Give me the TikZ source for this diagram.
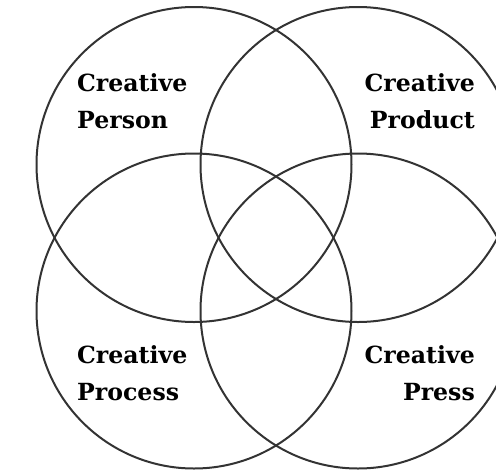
\documentclass[tikz,border=0pt]{standalone}
\usepackage{fontspec}
\setmainfont{DejaVu Serif}
\begin{document}
\begin{tikzpicture}[x=1pt,y=-1pt,
  ring/.style={draw=black!80, line width=2pt, circle, minimum size=315pt, inner sep=0pt},
  lbl/.style={font=\bfseries\fontsize{23.6}{37}\selectfont, inner sep=0pt, text=black}]
\useasboundingbox (0,0) rectangle (496,475);
\clip (0,0) rectangle (496,475);
\node[ring] (person)  at (194,164.5) {};
\node[ring] (product) at (358,164.5) {};
\node[ring] (process) at (194,311) {};
\node[ring] (press)   at (358,311) {};
\node[lbl, anchor=base west, align=left]  (tperson)  at (77,128)  {Creative\\Person};
\node[lbl, anchor=base east, align=right] (tproduct) at (475,128) {Creative\\Product};
\node[lbl, anchor=base west, align=left]  (tprocess) at (77,400.5)   {Creative\\Process};
\node[lbl, anchor=base east, align=right] (tpress)   at (475,400.5)  {Creative\\Press};
\end{tikzpicture}
\end{document}
